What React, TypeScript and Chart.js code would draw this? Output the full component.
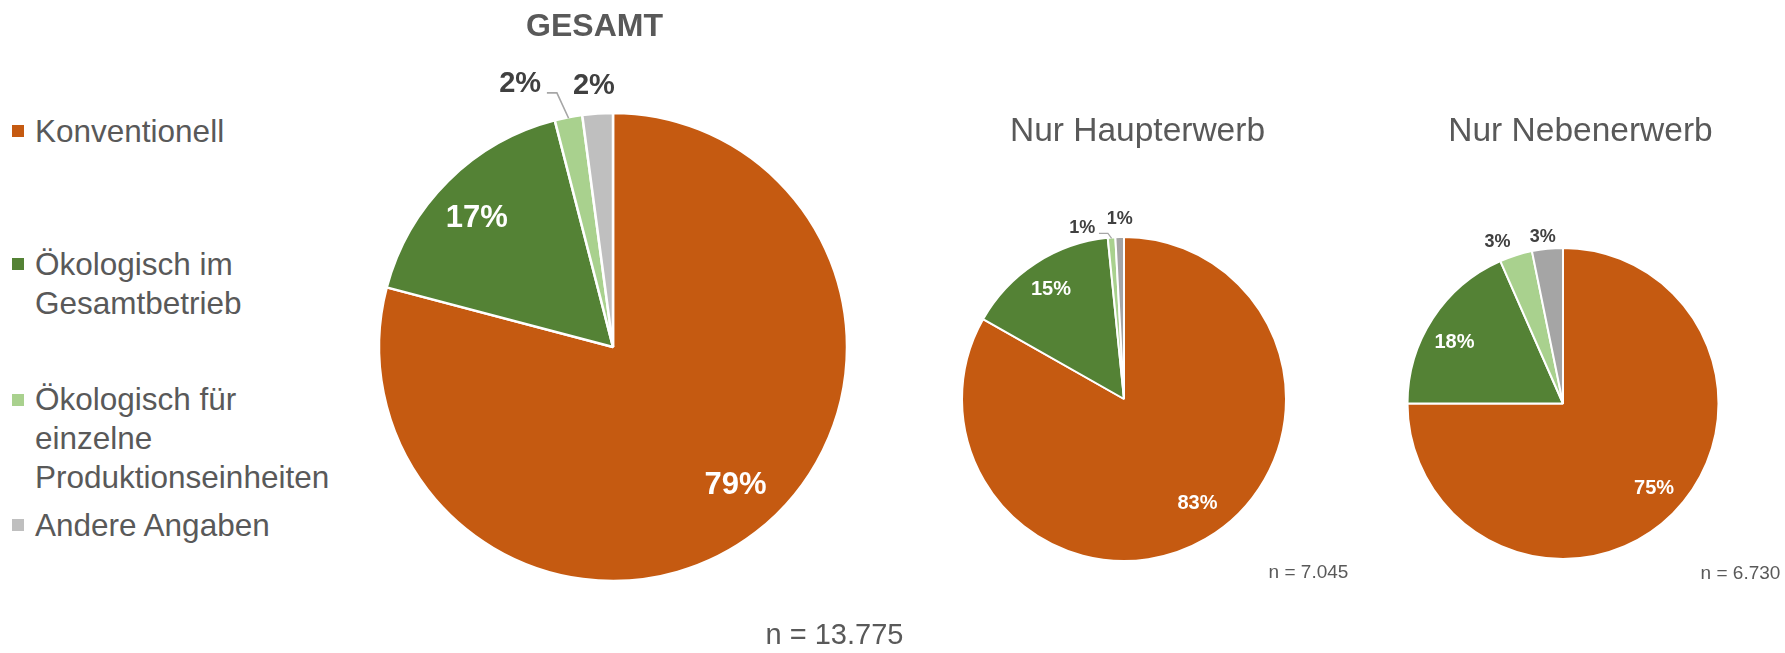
import React, { useEffect, useRef } from "react";
import { Chart, ArcElement, PieController } from "chart.js";

Chart.register(ArcElement, PieController);

// ---------- data ----------
const categories = [
  "Konventionell",
  "Ökologisch im Gesamtbetrieb",
  "Ökologisch für einzelne Produktionseinheiten",
  "Andere Angaben",
];
const gesamtValues = [79.1, 16.9, 1.9, 2.1];
const haupterwerbValues = [83.2, 15.2, 0.75, 0.85];
const nebenerwerbValues = [75.0, 18.4, 3.4, 3.2];
const chartTitles = ["GESAMT", "Nur Haupterwerb", "Nur Nebenerwerb"];
const sampleSizes = ["n = 13.775", "n = 7.045", "n = 6.730"];

// ---------- styles ----------
const W = 1785;
const H = 653;
const FONT = '"Liberation Sans", Arial, Helvetica, sans-serif';
const TEXT_COLOR = "#595959";
const LABEL_DARK = "#404040";
const legendColors = ["#C55A11", "#548235", "#A9D18E", "#BFBFBF"];
const gesamtColors = ["#C55A11", "#548235", "#A9D18E", "#BFBFBF"];
const smallColors = ["#C55A11", "#548235", "#A9D18E", "#A5A5A5"];

type Spec = { r: number; dA: number; size: number; color: string; leader?: boolean; leaderLen?: number; leaderW?: number };

const gesamtSpecs: Spec[] = [
  { r: 0.79, dA: -3.9, size: 31, color: "#FFFFFF" },
  { r: 0.8, dA: -1.9, size: 31, color: "#FFFFFF" },
  { r: 1.19, dA: -8.5, size: 29, color: LABEL_DARK, leader: true, leaderLen: 10, leaderW: 1.6 },
  { r: 1.12, dA: -0.4, size: 29, color: LABEL_DARK },
];
const haupterwerbSpecs: Spec[] = [
  { r: 0.79, dA: -4.8, size: 20, color: "#FFFFFF" },
  { r: 0.81, dA: -0.7, size: 20, color: "#FFFFFF" },
  { r: 1.085, dA: -9.3, size: 18, color: LABEL_DARK, leader: true, leaderLen: 9, leaderW: 1.2 },
  { r: 1.11, dA: 0.2, size: 18, color: LABEL_DARK },
];
const nebenerwerbSpecs: Spec[] = [
  { r: 0.8, dA: -2.1, size: 20, color: "#FFFFFF" },
  { r: 0.8, dA: -3.9, size: 20, color: "#FFFFFF" },
  { r: 1.118, dA: -4.5, size: 18, color: LABEL_DARK },
  { r: 1.08, dA: -1.2, size: 18, color: LABEL_DARK },
];

function makeLabelPlugin(specs: Spec[]) {
  return {
    id: "pctLabels",
    afterDatasetsDraw(chart: any) {
      const meta = chart.getDatasetMeta(0);
      const data = chart.data.datasets[0].data as number[];
      const ctx: CanvasRenderingContext2D = chart.ctx;
      meta.data.forEach((arc: any, i: number) => {
        const spec = specs[i];
        const { x, y, startAngle, endAngle, outerRadius } = arc.getProps(
          ["x", "y", "startAngle", "endAngle", "outerRadius"],
          true
        );
        const mid = (startAngle + endAngle) / 2;
        const a = mid + (spec.dA * Math.PI) / 180;
        const R = outerRadius * spec.r;
        const lx = x + Math.cos(a) * R;
        const ly = y + Math.sin(a) * R;
        const text = Math.round(data[i]) + "%";
        ctx.save();
        ctx.font = `bold ${spec.size}px ${FONT}`;
        ctx.fillStyle = spec.color;
        ctx.textAlign = "center";
        ctx.textBaseline = "middle";
        ctx.fillText(text, lx, ly);
        if (spec.leader) {
          const w = ctx.measureText(text).width;
          const sx = lx + w / 2 + spec.size * 0.2;
          const sy = ly + spec.size * 0.29;
          const ex = x + Math.cos(mid) * (outerRadius - 1);
          const ey = y + Math.sin(mid) * (outerRadius - 1);
          ctx.beginPath();
          ctx.moveTo(sx, sy);
          ctx.lineTo(sx + (spec.leaderLen || 10), sy);
          ctx.lineTo(ex, ey);
          ctx.strokeStyle = "#A6A6A6";
          ctx.lineWidth = spec.leaderW || 1.5;
          ctx.stroke();
        }
        ctx.restore();
      });
    },
  };
}

type PieProps = {
  values: number[];
  colors: string[];
  specs: Spec[];
  cx: number;
  cy: number;
  r: number;
  border: number;
};

function PieCanvas({ values, colors, specs, cx, cy, r, border }: PieProps) {
  const ref = useRef<HTMLCanvasElement>(null);
  useEffect(() => {
    if (!ref.current) return;
    const half = r + 1 + border / 2;
    const chart = new Chart(ref.current, {
      type: "pie",
      data: {
        labels: categories,
        datasets: [
          {
            data: values,
            backgroundColor: colors,
            borderColor: "#FFFFFF",
            borderWidth: border,
            hoverBorderWidth: border,
            hoverOffset: 0,
            offset: 0,
          },
        ],
      },
      options: {
        responsive: false,
        animation: false,
        events: [],
        layout: {
          padding: {
            left: cx - half,
            top: cy - half,
            right: W - cx - half,
            bottom: H - cy - half,
          },
        },
        plugins: {
          legend: { display: false },
          tooltip: { enabled: false },
          title: { display: false },
        },
      } as any,
      plugins: [makeLabelPlugin(specs)],
    });
    return () => chart.destroy();
  }, []);
  return (
    <canvas
      ref={ref}
      width={W}
      height={H}
      style={{ position: "absolute", left: 0, top: 0, width: W, height: H }}
    />
  );
}

function Txt({
  x,
  baseline,
  size,
  bold,
  children,
}: {
  x: number;
  baseline: number;
  size: number;
  bold?: boolean;
  children: React.ReactNode;
}) {
  return (
    <div
      style={{
        position: "absolute",
        left: x,
        top: baseline - 0.8465 * size,
        transform: "translateX(-50%)",
        fontFamily: FONT,
        fontSize: size,
        lineHeight: `${size}px`,
        fontWeight: bold ? 700 : 400,
        color: TEXT_COLOR,
        whiteSpace: "nowrap",
      }}
    >
      {children}
    </div>
  );
}

const legendBaselines = [142, 275, 410.5, 536];
const LEG_SIZE = 31.5;
const LEG_LH = 39;

function Legend() {
  return (
    <>
      {categories.map((c, i) => {
        const b = legendBaselines[i];
        const halfLead = (LEG_LH - 1.117 * LEG_SIZE) / 2;
        const top = b - (halfLead + 0.905 * LEG_SIZE);
        return (
          <React.Fragment key={c}>
            <div
              style={{
                position: "absolute",
                left: 12,
                top: b - 11 - 6,
                width: 12,
                height: 12,
                background: legendColors[i],
              }}
            />
            <div
              style={{
                position: "absolute",
                left: 35,
                top,
                width: 305,
                fontFamily: FONT,
                fontSize: LEG_SIZE,
                lineHeight: `${LEG_LH}px`,
                color: TEXT_COLOR,
              }}
            >
              {c}
            </div>
          </React.Fragment>
        );
      })}
    </>
  );
}

export default function App() {
  return (
    <div
      style={{
        position: "fixed",
        left: 0,
        top: 0,
        width: W,
        height: H,
        background: "#FFFFFF",
        overflow: "hidden",
      }}
    >
      <Legend />
      <PieCanvas values={gesamtValues} colors={gesamtColors} specs={gesamtSpecs} cx={613} cy={347} r={233} border={2.5} />
      <PieCanvas values={haupterwerbValues} colors={smallColors} specs={haupterwerbSpecs} cx={1124} cy={399} r={161} border={2} />
      <PieCanvas values={nebenerwerbValues} colors={smallColors} specs={nebenerwerbSpecs} cx={1563} cy={403.5} r={154.5} border={2} />
      <Txt x={594.5} baseline={35.7} size={32} bold>
        {chartTitles[0]}
      </Txt>
      <Txt x={1137.5} baseline={141.7} size={33.5}>
        {chartTitles[1]}
      </Txt>
      <Txt x={1580.5} baseline={141.7} size={33.5}>
        {chartTitles[2]}
      </Txt>
      <Txt x={834.5} baseline={645} size={29}>
        {sampleSizes[0]}
      </Txt>
      <Txt x={1308.5} baseline={578} size={19}>
        {sampleSizes[1]}
      </Txt>
      <Txt x={1740.5} baseline={579} size={19}>
        {sampleSizes[2]}
      </Txt>
    </div>
  );
}
